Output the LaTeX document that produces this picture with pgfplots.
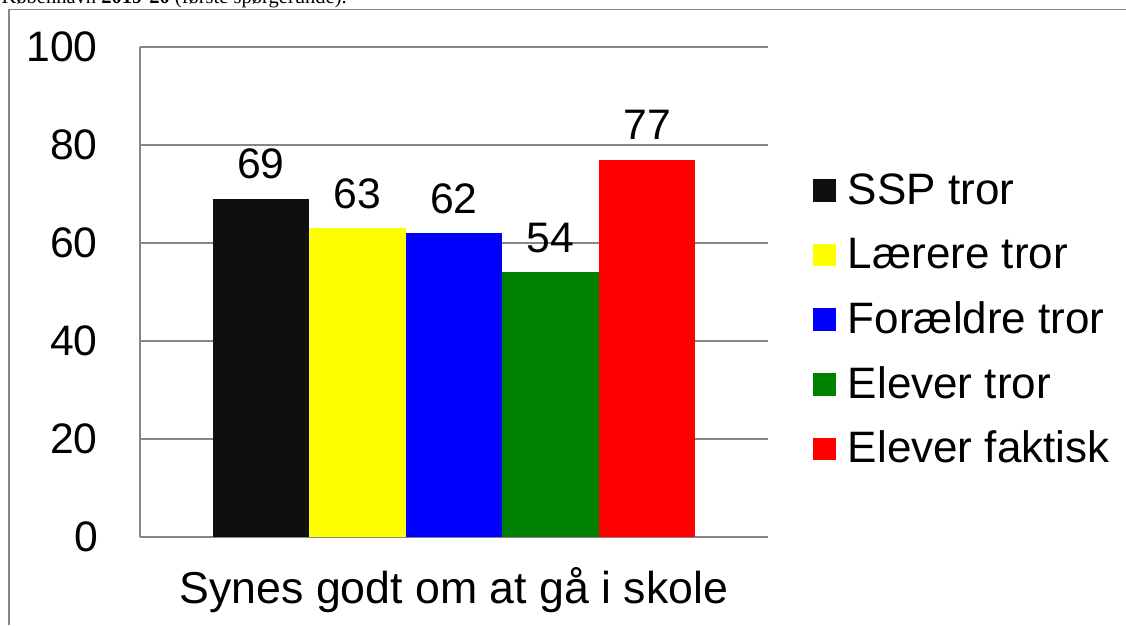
\documentclass[border=0pt]{standalone}
\usepackage{pgfplots}
\pgfplotsset{compat=1.18}
\usepackage{fontspec}
\setmainfont{Liberation Sans}
\newfontfamily\seriffont{Liberation Serif}
\definecolor{gridgray}{HTML}{868686}
\definecolor{barblack}{HTML}{0F0F0F}
\definecolor{bargreen}{HTML}{008000}
\definecolor{baryellow}{HTML}{FFFF00}
\begin{document}
\begin{tikzpicture}
\useasboundingbox (0,0) rectangle (844.5pt,468.75pt);
\node[anchor=base west, inner sep=0pt, font=\seriffont\fontsize{15.4}{18}\selectfont] at (1pt,465.75pt) {København \textbf{2019-20} (første spørgerunde).};
\draw[gridgray, line width=1pt] (6.75pt,0pt) -- (6.75pt,461.6pt) -- (844.5pt,461.6pt);
\begin{axis}[
  at={(105pt,66pt)}, anchor=south west, scale only axis,
  width=471pt, height=367.5pt,
  xmin=-1, xmax=1, ymin=0, ymax=100,
  ybar=0pt, bar width=72.4pt,
  ytick={0,20,40,60,80,100},
  xtick={0}, xticklabels={Synes godt om at gå i skole},
  major tick length=0pt,
  axis x line*=bottom, axis y line*=left,
  axis line style={gridgray, line width=1.2pt, -},
  ymajorgrids, grid style={gridgray, line width=1.2pt},
  /pgf/number format/assume math mode=true,
  yticklabel style={font=\fontsize{32}{38}\selectfont, anchor=east, inner sep=0pt, xshift=-31.5pt},
  xticklabel style={font=\fontsize{33.5}{40}\selectfont, anchor=base, inner sep=0pt, yshift=-49.5pt},
  nodes near coords,
  every node near coord/.append style={font=\fontsize{32}{38}\selectfont, anchor=base, inner sep=0pt, yshift=15pt, text=black},
  legend style={at={(1.0716,0.745)}, anchor=north west, draw=none, fill=none, inner sep=0pt,
    row sep=16.5pt, column sep=9pt, font=\fontsize{33}{40}\selectfont,
    nodes={inner sep=0pt, text height=24pt, text depth=8pt}},
  legend cell align=left,
  legend image code/.code={\fill[#1] (0pt,-6pt) rectangle (17pt,11pt);},
]
\addplot[fill=barblack, draw=none] coordinates {(0,69)};
\addplot[fill=baryellow, draw=none] coordinates {(0,63)};
\addplot[fill=blue, draw=none] coordinates {(0,62)};
\addplot[fill=bargreen, draw=none] coordinates {(0,54)};
\addplot[fill=red, draw=none] coordinates {(0,77)};
\legend{SSP tror, Lærere tror, Forældre tror, Elever tror, Elever faktisk}
\end{axis}
\end{tikzpicture}
\end{document}
